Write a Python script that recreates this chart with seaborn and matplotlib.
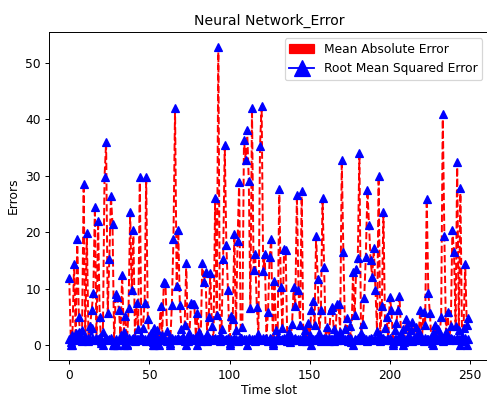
import matplotlib
matplotlib.use("Agg")
import matplotlib.pyplot as plt
import matplotlib.patches as mpatches
import matplotlib.lines as mlines
import numpy as np
import pandas as pd
import seaborn as sns

# Per-slot error values of the neural network forecaster
time_slot = list(range(250))

mean_abs_error = [
    11.9, 0.6, 1.8, 14.3, 2.1, 18.7, 4.9, 1.2, 2.6, 28.6,
    1.5, 19.8, 0.8, 3.4, 6.2, 9.2, 24.4, 1.1, 22.0, 5.0,
    0.4, 2.3, 29.7, 35.9, 5.6, 15.2, 26.4, 21.4, 0.3, 9.0,
    8.5, 6.2, 1.7, 12.5, 2.4, 5.1, 0.2, 6.6, 23.5, 9.7,
    20.3, 1.3, 7.5, 2.8, 29.7, 1.6, 3.1, 7.5, 29.7, 4.6,
    1.2, 2.2, 0.5, 3.0, 1.4, 2.7, 0.9, 7.0, 1.8, 11.2,
    11.0, 2.5, 1.0, 0.3, 7.1, 18.7, 42.0, 10.4, 20.3, 7.1,
    2.9, 1.4, 3.6, 14.5, 0.7, 2.2, 7.4, 7.2, 7.2, 1.5,
    5.6, 2.4, 0.8, 14.6, 11.2, 13.0, 1.9, 5.0, 12.8, 3.3,
    1.1, 26.0, 5.3, 52.8, 1.6, 2.9, 15.3, 35.5, 17.8, 9.7,
    0.4, 5.1, 4.7, 19.6, 2.6, 18.4, 28.9, 1.3, 3.2, 36.4,
    32.7, 38.0, 29.0, 6.6, 41.9, 13.3, 16.1, 6.8, 2.0, 35.2,
    42.4, 13.1, 16.1, 1.2, 5.9, 15.6, 18.7, 0.3, 11.3, 2.7,
    1.5, 27.6, 10.2, 3.1, 17.1, 16.9, 1.0, 2.3, 0.6, 3.8,
    10.2, 6.9, 26.6, 9.8, 3.5, 27.2, 1.4, 2.6, 0.8, 3.9,
    1.7, 6.2, 7.8, 3.5, 19.3, 11.7, 2.1, 6.2, 26.0, 13.8,
    1.3, 3.2, 0.7, 6.2, 6.7, 2.9, 1.6, 7.2, 7.2, 2.4,
    32.8, 16.5, 2.9, 4.8, 1.2, 3.3, 0.5, 13.0, 5.3, 13.5,
    15.5, 34.0, 2.2, 3.7, 8.4, 15.6, 27.5, 21.2, 15.0, 12.1,
    17.2, 9.7, 2.5, 29.9, 1.8, 6.9, 23.6, 3.0, 5.0, 1.1,
    8.5, 6.2, 0.4, 2.7, 3.9, 6.2, 8.7, 1.9, 2.8, 0.6,
    4.7, 3.4, 1.5, 2.6, 4.1, 0.9, 3.2, 1.7, 2.4, 6.2,
    1.0, 5.9, 3.5, 25.9, 9.2, 5.6, 0.3, 2.1, 3.6, 1.4,
    2.8, 1.9, 5.0, 40.9, 19.4, 2.3, 5.9, 1.2, 3.3, 20.3,
    16.5, 3.4, 32.4, 2.7, 27.8, 1.6, 3.1, 14.4, 3.5, 4.8,
]

root_mean_sq_error = [
    1.0, 0.0, 0.0, 1.2, 0.9, 1.1, 2.4, 1.0, 0.8, 1.3,
    1.1, 0.9, 1.2, 1.0, 3.1, 1.1, 0.9, 1.2, 1.0, 1.4,
    0.8, 0.0, 1.1, 1.3, 0.9, 1.0, 1.2, 0.0, 0.0, 1.1,
    0.0, 0.9, 1.2, 1.0, 0.0, 1.1, 0.0, 1.3, 0.9, 1.0,
    1.2, 0.8, 1.1, 1.0, 0.9, 1.3, 1.0, 1.1, 0.8, 1.2,
    1.0, 0.9, 0.0, 0.0, 1.1, 1.2, 0.0, 0.9, 1.0, 1.3,
    1.1, 0.8, 1.0, 0.0, 1.2, 0.9, 1.1, 1.0, 1.3, 0.9,
    1.0, 1.2, 0.8, 0.0, 1.1, 0.9, 1.0, 1.2, 1.1, 0.9,
    0.0, 1.0, 1.3, 0.9, 1.1, 1.0, 0.8, 1.2, 1.0, 1.1,
    0.9, 1.2, 1.0, 1.1, 0.8, 1.3, 1.0, 0.9, 1.1, 1.2,
    0.0, 1.0, 0.9, 1.2, 1.1, 0.8, 1.0, 1.3, 0.9, 1.1,
    1.0, 0.0, 1.2, 0.9, 1.1, 1.0, 0.8, 1.2, 1.0, 1.1,
    0.9, 1.3, 1.0, 1.1, 0.8, 1.2, 1.0, 0.0, 1.1, 0.9,
    1.2, 1.0, 0.9, 1.1, 1.3, 1.0, 0.8, 1.2, 1.1, 0.9,
    1.0, 1.2, 0.9, 1.1, 1.0, 0.8, 1.3, 1.0, 1.1, 0.9,
    1.2, 0.0, 1.0, 1.1, 0.9, 1.2, 1.0, 0.8, 1.1, 1.3,
    1.0, 0.9, 1.2, 1.1, 1.0, 0.8, 1.2, 0.9, 1.1, 1.0,
    1.3, 0.9, 1.0, 1.1, 0.8, 1.2, 1.0, 0.0, 1.1, 0.9,
    1.2, 1.0, 1.1, 0.9, 1.3, 1.0, 0.8, 1.1, 1.2, 1.0,
    0.9, 1.1, 1.0, 1.2, 0.8, 1.0, 1.3, 0.9, 1.1, 1.0,
    1.2, 0.9, 0.0, 1.1, 1.0, 1.3, 0.8, 1.0, 0.0, 1.1,
    0.9, 1.2, 1.0, 1.1, 0.8, 1.3, 1.0, 0.9, 1.2, 1.1,
    1.0, 0.8, 1.2, 1.0, 1.1, 0.9, 1.3, 0.0, 1.0, 1.2,
    0.9, 1.1, 1.0, 0.8, 1.2, 1.0, 1.1, 0.9, 1.3, 1.0,
    1.1, 0.9, 1.2, 1.0, 0.0, 1.1, 0.8, 1.2, 0.0, 1.0,
]

df = pd.DataFrame({
    "slot": time_slot,
    "mae": mean_abs_error,
    "rmse": root_mean_sq_error,
})

DPI = 88
fig = plt.figure(figsize=(487 / DPI, 396 / DPI), dpi=DPI)
ax = fig.add_axes([0.1012, 0.0909, 0.9016, 0.8283])

sns.lineplot(data=df, x="slot", y="mae", ax=ax, color="red",
             linestyle="--", linewidth=1.6, marker="^", markersize=6.3,
             markerfacecolor="blue", markeredgecolor="blue",
             markeredgewidth=1.0, errorbar=None, sort=False)
sns.lineplot(data=df, x="slot", y="rmse", ax=ax, color="blue",
             linestyle="-", linewidth=1.6, marker="^", markersize=6.3,
             markerfacecolor="blue", markeredgecolor="blue",
             markeredgewidth=1.0, errorbar=None, sort=False)

ax.set_title("Neural Network_Error", fontsize=11.5)
ax.set_xlabel("Time slot", labelpad=2)
ax.set_ylabel("Errors")
ax.set_xticks([0, 50, 100, 150, 200, 250])
ax.set_yticks([0, 10, 20, 30, 40, 50])

handles = [
    mpatches.Patch(color="red", label="Mean Absolute Error"),
    mlines.Line2D([], [], color="blue", marker="^", markersize=13,
                  label="Root Mean Squared Error"),
]
ax.legend(handles=handles, loc="upper right")

fig.savefig("out.png", dpi=DPI)
